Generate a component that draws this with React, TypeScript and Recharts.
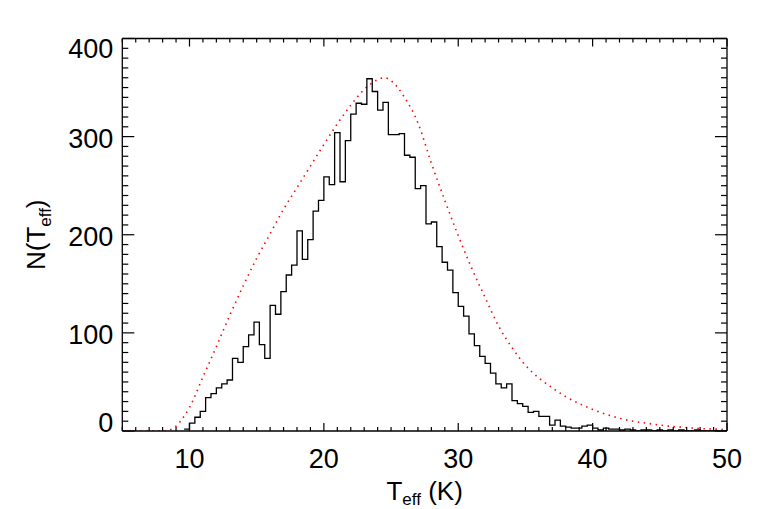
import { LineChart, Line, XAxis, YAxis } from 'recharts'

const FONT = '"Liberation Sans", Arial, Helvetica, sans-serif'

// histogram: 0.4 K bins starting at 9.6 K
const binStart = 9.6
const binWidth = 0.4
const histCounts = [
  2, 8, 14, 20, 34, 38, 44, 48, 52, 74,
  70, 86, 98, 111, 88, 74, 128, 119, 142, 159,
  169, 204, 175, 195, 224, 235, 259, 251, 304, 254,
  296, 323, 334, 333, 359, 346, 327, 335, 302, 302,
  303, 281, 279, 247, 250, 211, 213, 188, 172, 164,
  141, 127, 117, 99, 87, 76, 69, 59, 48, 44,
  48, 31, 28, 25, 19, 20, 15, 15, 6, 11,
  5, 4, 3, 3, 5, 6, 3, 1, 3, 2,
  2, 1, 2, 1, 0, 1, 1, 0, 1, 0,
  1, 0, 1, 0, 0, 1, 0, 0, 0, 0, 0,
]

// model curve (red dotted)
const modelT = [5, 6, 7, 8, 8.5, 9, 9.5, 10, 11, 12, 13, 14, 15, 16, 17, 18, 19, 20, 21, 22, 23, 24, 24.5, 25, 26, 27, 28, 29, 30, 31, 32, 33, 34, 35, 36, 37, 38, 39, 40, 41, 42, 43, 44, 45, 46, 47, 48, 49, 50]
const modelN = [0, 0, 0, 0, 1, 5, 13, 24, 55, 86, 118, 148, 176, 201, 226, 248, 270, 292, 313, 332, 348, 358, 360, 357, 340, 314, 273, 235, 199, 166, 136, 107, 85, 67, 54, 44, 35, 28, 22, 17, 13, 10, 8, 6, 4.5, 3.5, 2.5, 2, 1.5]

const xDomain = [5, 50]
const yDomain = [0, 400]
const xTicks = Array.from({ length: 46 }, (_, i) => 5 + i)
const yTicks = Array.from({ length: 41 }, (_, i) => i * 10)

const histData = histCounts.map((n, i) => ({ t: +(binStart + i * binWidth).toFixed(2), n }))
histData.push({ t: +(binStart + histCounts.length * binWidth).toFixed(2), n: histCounts[histCounts.length - 1] })
const modelData = modelT.map((t, i) => ({ t, n: modelN[i] }))

const BottomTick = (p: any) => {
  const v = p.payload.value
  const major = v % 10 === 0
  return (
    <g>
      <line x1={p.x} x2={p.x} y1={p.y} y2={p.y - (major ? 8 : 4)} stroke="#000" strokeWidth={1.2} />
      {major && <text x={p.x} y={p.y + 37} textAnchor="middle" fontSize={27} fontFamily={FONT} fill="#000">{v}</text>}
    </g>
  )
}

const TopTick = (p: any) => {
  const major = p.payload.value % 10 === 0
  return <line x1={p.x} x2={p.x} y1={p.y} y2={p.y + (major ? 8 : 4)} stroke="#000" strokeWidth={1.2} />
}

const LeftTick = (p: any) => {
  const v = p.payload.value
  const major = v % 100 === 0
  const base = v === 0 ? 1 : v === 400 ? 19 : 11
  return (
    <g>
      <line x1={p.x} x2={p.x + (major ? 12 : 6)} y1={p.y} y2={p.y} stroke="#000" strokeWidth={1.2} />
      {major && <text x={p.x - 9} y={p.y + base} textAnchor="end" fontSize={27} fontFamily={FONT} fill="#000">{v}</text>}
    </g>
  )
}

const RightTick = (p: any) => {
  const major = p.payload.value % 100 === 0
  return <line x1={p.x} x2={p.x - (major ? 12 : 6)} y1={p.y} y2={p.y} stroke="#000" strokeWidth={1.2} />
}

const XTitle = (props: any) => {
  const vb = props.viewBox
  const cx = vb.x + vb.width / 2
  return (
    <text x={cx} y={vb.y + 69} textAnchor="middle" fontSize={26} fontFamily={FONT} fill="#000">
      T<tspan dy={5} fontSize={17}>eff</tspan><tspan dy={-5}> (K)</tspan>
    </text>
  )
}

const YTitle = (props: any) => {
  const vb = props.viewBox
  const cy = vb.y + vb.height / 2
  const bx = 45
  return (
    <text x={bx} y={cy} transform={`rotate(-90, ${bx}, ${cy})`} textAnchor="middle" fontSize={26} fontFamily={FONT} fill="#000">
      N(T<tspan dy={6} fontSize={17}>eff</tspan><tspan dy={-6}>)</tspan>
    </text>
  )
}

const axisLine = { stroke: '#000', strokeWidth: 1.3 }

export default function App() {
  return (
    <div style={{ position: 'absolute', left: 0, top: 0, width: 764, height: 509, background: '#fff' }}>
      <LineChart width={764} height={509} margin={{ top: 28.5, right: 27, bottom: 38, left: 62.3 }}>
        <XAxis xAxisId="bottom" dataKey="t" type="number" domain={xDomain} ticks={xTicks} interval={0}
          allowDataOverflow height={40} tickSize={0} tickMargin={0} tickLine={false} axisLine={axisLine}
          tick={<BottomTick />} label={{ content: XTitle }} />
        <XAxis xAxisId="top" orientation="top" dataKey="t" type="number" domain={xDomain} ticks={xTicks} interval={0}
          allowDataOverflow height={10} tickSize={0} tickMargin={0} tickLine={false} axisLine={axisLine}
          tick={<TopTick />} />
        <YAxis yAxisId="left" type="number" domain={yDomain} ticks={yTicks} interval={0}
          allowDataOverflow width={60} tickSize={0} tickMargin={0} tickLine={false} axisLine={axisLine}
          tick={<LeftTick />} label={{ content: YTitle }} />
        <YAxis yAxisId="right" orientation="right" type="number" domain={yDomain} ticks={yTicks} interval={0}
          allowDataOverflow width={10} tickSize={0} tickMargin={0} tickLine={false} axisLine={axisLine}
          tick={<RightTick />} />
        <Line xAxisId="top" yAxisId="right" data={modelData} dataKey="n" type="monotone" stroke="#ff0000"
          strokeWidth={1.6} strokeDasharray="1.5 4.5" dot={false} isAnimationActive={false} />
        <Line xAxisId="bottom" yAxisId="left" data={histData} dataKey="n" type="stepAfter" stroke="#000"
          strokeWidth={1.3} dot={false} isAnimationActive={false} />
      </LineChart>
    </div>
  )
}
